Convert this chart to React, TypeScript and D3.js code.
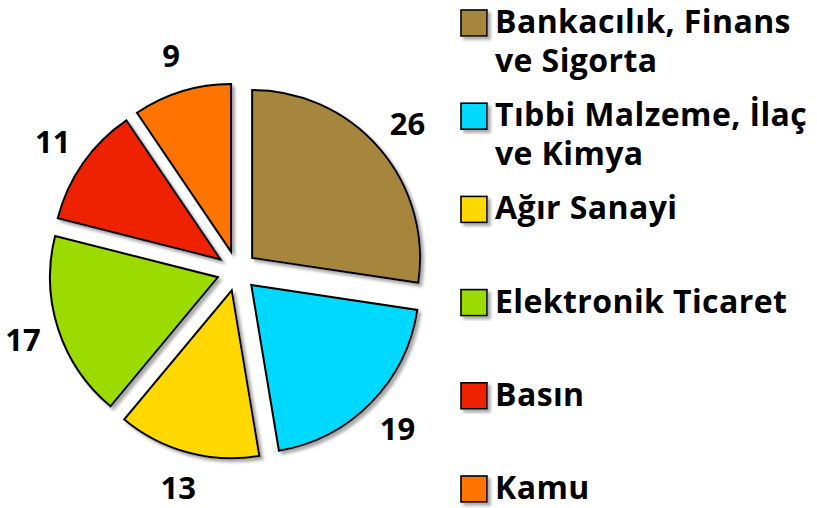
import React from "react";
import * as d3 from "d3";

const categories = [
  ["Bankacılık, Finans", "ve Sigorta"],
  ["Tıbbi Malzeme, İlaç", "ve Kimya"],
  ["Ağır Sanayi"],
  ["Elektronik Ticaret"],
  ["Basın"],
  ["Kamu"],
];
const values = [26, 19, 13, 17, 11, 9];
const colors = ["#A6853D", "#00D9FF", "#FFD800", "#9CDB00", "#EE2200", "#FF7300"];

const W = 817;
const H = 508;
const CX = 237;
const CY = 271;
const R = 168;
const EXPLODE = 20;
const LABEL_R = 225;
const FONT = "'Open Sans', 'Noto Sans', sans-serif";

export default function App() {
  const pie = d3.pie<number>().sort(null).value((d) => d)(values);
  const arc = d3.arc<d3.PieArcDatum<number>>().innerRadius(0).outerRadius(R);
  const labelArc = d3
    .arc<d3.PieArcDatum<number>>()
    .innerRadius(LABEL_R)
    .outerRadius(LABEL_R);

  const legendY = d3
    .scaleLinear()
    .domain([0, categories.length - 1])
    .range([33, 499]);

  return (
    <svg
      width={W}
      height={H}
      style={{ position: "absolute", left: 0, top: 0, background: "#fff" }}
    >
      <defs>
        <filter id="sh" x="-20%" y="-20%" width="140%" height="140%">
          <feDropShadow dx="3" dy="3" stdDeviation="1.6" floodColor="#888" floodOpacity="0.7" />
        </filter>
      </defs>
      <g transform={`translate(${CX},${CY})`}>
        {pie.map((p, i) => {
          const mid = (p.startAngle + p.endAngle) / 2;
          const ox = Math.sin(mid) * EXPLODE;
          const oy = -Math.cos(mid) * EXPLODE;
          return (
            <path
              key={i}
              d={arc(p) || ""}
              transform={`translate(${ox},${oy})`}
              fill={colors[i]}
              stroke="#000"
              strokeWidth={2}
              strokeLinejoin="miter"
              filter="url(#sh)"
            />
          );
        })}
        {pie.map((p, i) => {
          const [lx, ly] = labelArc.centroid(p);
          return (
            <text
              key={"l" + i}
              x={lx}
              y={ly}
              dy="0.35em"
              textAnchor="middle"
              fontFamily={FONT}
              fontWeight={700}
              fontSize={31}
              fill="#000"
            >
              {values[i]}
            </text>
          );
        })}
      </g>
      <g>
        {categories.map((lines, i) => {
          const y = legendY(i);
          return (
            <g key={"g" + i}>
              <rect
                x={461}
                y={y - 23}
                width={26}
                height={26}
                fill={colors[i]}
                stroke="#000"
                strokeWidth={1.6}
                filter="url(#sh)"
              />
              {lines.map((t, j) => (
                <text
                  key={j}
                  x={495}
                  y={y + j * 39}
                  fontFamily={FONT}
                  fontWeight={700}
                  fontSize={32}
                  letterSpacing={0.4}
                  fill="#000"
                >
                  {t}
                </text>
              ))}
            </g>
          );
        })}
      </g>
    </svg>
  );
}
